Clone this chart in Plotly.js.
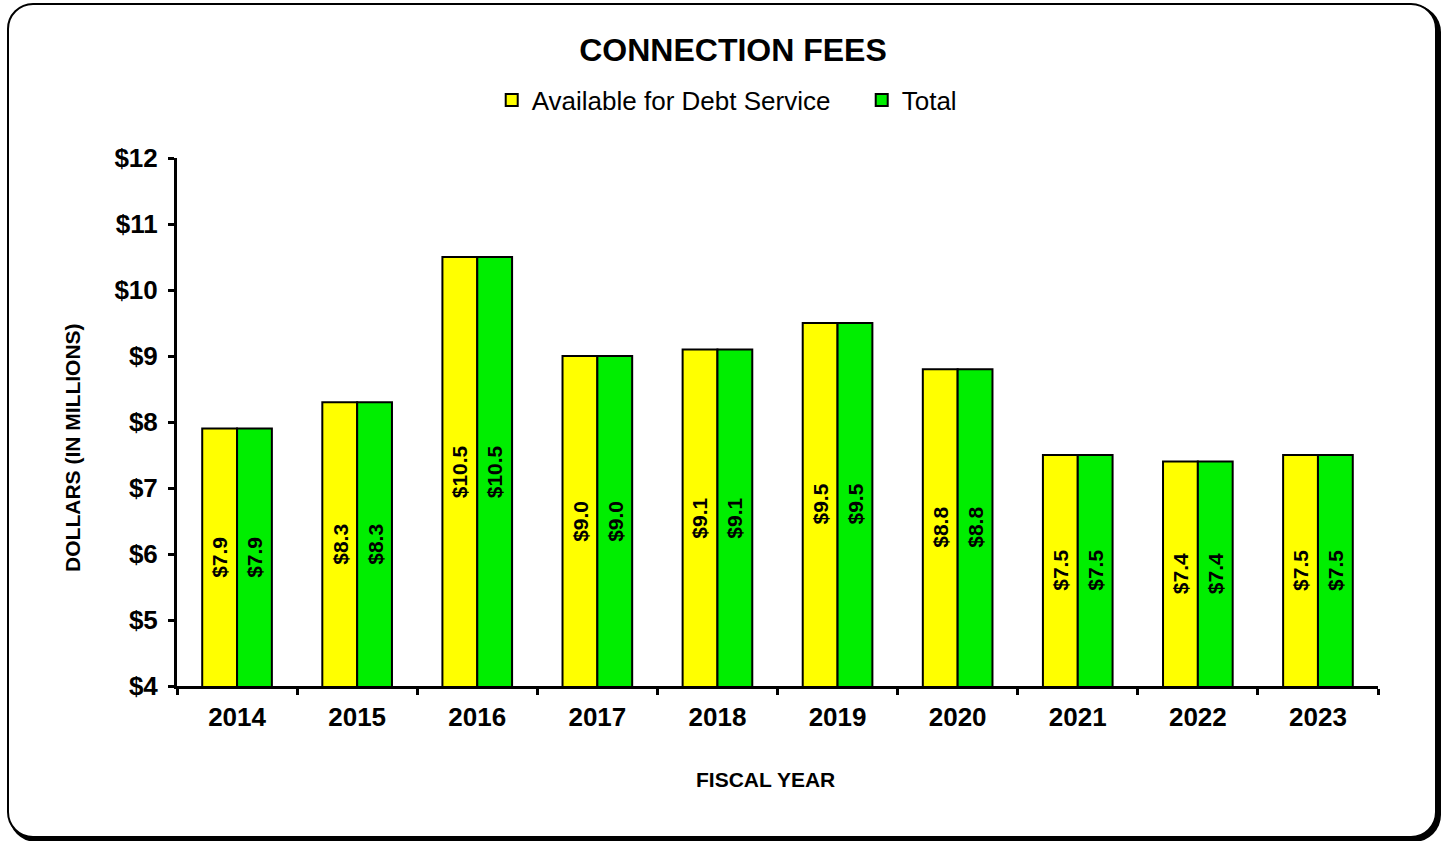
<!DOCTYPE html>
<html>
<head>
<meta charset="utf-8">
<script src="https://cdn.plot.ly/plotly-3.0.1.min.js"></script>
<style>
  html, body { margin: 0; padding: 0; background: #fff; }
  #frame { position: absolute; left: 7px; top: 3px; width: 1426px; height: 831px;
           border: 2px solid #000; border-radius: 26px; box-shadow: 3px 3px 0 1px #000; background: #fff; }
  #chart { position: absolute; left: 0; top: 0; width: 1441px; height: 841px; }
</style>
</head>
<body>
<div id="frame"></div>
<div id="chart"></div>
<script>
const years = ['2014','2015','2016','2017','2018','2019','2020','2021','2022','2023'];
const availableForDebtService = [7.9, 8.3, 10.5, 9.0, 9.1, 9.5, 8.8, 7.5, 7.4, 7.5];
const total = [7.9, 8.3, 10.5, 9.0, 9.1, 9.5, 8.8, 7.5, 7.4, 7.5];
const yTickVals = [4,5,6,7,8,9,10,11,12];
const yMin = 4, yMax = 12;

const FONT = 'Arial, "Liberation Sans", sans-serif';

function barTrace(name, vals, color) {
  return {
    type: 'bar', name: name, x: years, y: vals,
    marker: { color: color, line: { color: '#000', width: 2 } },
    hoverinfo: 'x+y'
  };
}

const data = [
  barTrace('Available for Debt Service', availableForDebtService, '#FFFF00'),
  barTrace('Total', total, '#00EE00')
];

// value labels, centred in the visible part of each bar (x = category index)
const annotations = [];
function addLabels(vals, shift) {
  vals.forEach((v, i) => {
    annotations.push({
      xref: 'x', yref: 'y', x: i, y: (v + yMin) / 2, xshift: shift,
      text: '$' + v.toFixed(1), textangle: -90, showarrow: false,
      font: { family: FONT, size: 21, weight: 'bold', color: '#000' }
    });
  });
}
addLabels(availableForDebtService, -17.5);
addLabels(total, 17.5);

annotations.push({
  xref: 'paper', yref: 'paper', x: -0.087, y: 0.45, xanchor: 'center', yanchor: 'middle',
  text: 'DOLLARS (IN MILLIONS)', textangle: -90, showarrow: false,
  font: { family: FONT, size: 21, weight: 'bold', color: '#000' }
});
annotations.push({
  xref: 'paper', yref: 'paper', x: 0.4896, y: -0.178, xanchor: 'center', yanchor: 'middle',
  text: 'FISCAL YEAR', showarrow: false,
  font: { family: FONT, size: 21, weight: 'bold', color: '#000' }
});

const layout = {
  width: 1441, height: 841,
  paper_bgcolor: 'rgba(0,0,0,0)', plot_bgcolor: 'rgba(0,0,0,0)',
  margin: { l: 177, r: 63, t: 158, b: 155 },
  font: { family: FONT, color: '#000' },
  barmode: 'group', bargap: 0.42, bargroupgap: 0,
  title: { text: 'CONNECTION FEES', font: { family: FONT, size: 32, weight: 'bold', color: '#000' },
           xref: 'container', yref: 'container', x: 733 / 1441, xanchor: 'center', y: 1 - 50 / 841, yanchor: 'middle' },
  showlegend: true,
  legend: { orientation: 'h', xref: 'container', yref: 'container', x: 0.598, xanchor: 'center',
            y: 1 - 100 / 841, yanchor: 'middle', font: { family: FONT, size: 26, color: '#000' },
            itemwidth: 30, entrywidth: 325, traceorder: 'normal' },
  annotations: annotations,
  xaxis: {
    type: 'category', range: [-0.5, years.length - 0.5], autorange: false,
    tickson: 'boundaries', ticks: 'outside', ticklen: 6, tickwidth: 3, tickcolor: '#000',
    showline: true, linewidth: 3, linecolor: '#000', showgrid: false, zeroline: false,
    ticklabelstandoff: 6, tickangle: 0,
    tickfont: { family: FONT, size: 26, weight: 'bold', color: '#000' }
  },
  yaxis: {
    range: [yMin, yMax], autorange: false, tickvals: yTickVals, ticktext: yTickVals.map(v => '$' + v),
    ticks: 'outside', ticklen: 6, tickwidth: 3, tickcolor: '#000',
    showline: true, linewidth: 3, linecolor: '#000', showgrid: false, zeroline: false,
    ticklabelstandoff: 5,
    tickfont: { family: FONT, size: 26, weight: 'bold', color: '#000' }
  }
};

Plotly.newPlot('chart', data, layout, { displayModeBar: false, staticPlot: true });
</script>
</body>
</html>
